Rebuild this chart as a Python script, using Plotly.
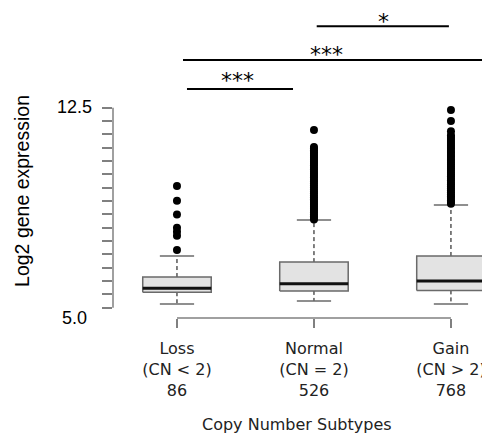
import plotly.graph_objects as go

# ---------------- data ----------------
categories = ["Loss", "Normal", "Gain"]
cn_labels = ["(CN < 2)", "(CN = 2)", "(CN > 2)"]
counts = [86, 526, 768]

q1 = [5.58, 5.63, 5.65]
medians = [5.73, 5.90, 6.00]
q3 = [6.15, 6.71, 6.94]
lower_whisker = [5.14, 5.25, 5.14]
upper_whisker = [6.94, 8.29, 8.85]

loss_outliers = [9.56, 9.01, 8.50, 8.00, 7.85, 7.70, 7.16]
normal_outliers = [11.66, 11.03, 10.97, 10.90, 10.84, 10.77, 10.70, 10.62, 10.55,
                   10.47, 10.40, 10.33, 10.25, 10.18, 10.10, 10.02, 9.95, 9.88,
                   9.80, 9.73, 9.66, 9.58, 9.51, 9.43, 9.36, 9.29, 9.21, 9.14,
                   9.07, 9.00, 8.93, 8.86, 8.79, 8.71, 8.64, 8.57, 8.50, 8.43,
                   8.36, 8.31]
gain_outliers = [12.41, 12.00, 11.62, 11.47, 11.40, 11.33, 11.25, 11.18, 11.10,
                 11.03, 10.96, 10.88, 10.81, 10.73, 10.66, 10.58, 10.51, 10.44,
                 10.36, 10.29, 10.21, 10.14, 10.06, 9.99, 9.92, 9.84, 9.77,
                 9.69, 9.62, 9.55, 9.47, 9.40, 9.33, 9.25, 9.18, 9.11, 9.03,
                 8.96, 8.90]
outliers = [loss_outliers, normal_outliers, gain_outliers]

ytick_vals = [5.0, 5.5, 6.0, 6.5, 7.0, 7.5, 8.0, 8.5, 9.0, 9.5, 10.0, 10.5,
              11.0, 11.5, 12.0, 12.5]
ytick_labels = ["5.0", "12.5"]

# significance comparisons
sig_x0 = [0.073, 0.044, 1.02]
sig_x1 = [0.847, 2.29, 1.985]
sig_y = [13.20, 14.29, 15.56]
sig_text_x = [0.445, 1.088, 1.504]
sig_text_y = [13.53, 14.51, 16.24]
sig_text_anchor = ["middle", "middle", "top"]
sig_labels = ["***", "***", "*"]

# ---------------- styles ----------------
HALF_BOX = 0.25
HALF_CAP = 0.125
AXIS_GRAY = "#808080"
BOX_EDGE = "#6a6a6a"
BOX_FILL = "#e3e3e3"

fig = go.Figure()

for i, cat in enumerate(categories):
    # whiskers (dashed)
    fig.add_trace(go.Scatter(x=[i, i], y=[q3[i], upper_whisker[i]], mode="lines",
                             line=dict(color="black", width=1, dash="4px,3px"),
                             hoverinfo="skip", showlegend=False))
    fig.add_trace(go.Scatter(x=[i, i], y=[q1[i], lower_whisker[i]], mode="lines",
                             line=dict(color="black", width=1, dash="4px,3px"),
                             hoverinfo="skip", showlegend=False))
    # caps
    for v in (upper_whisker[i], lower_whisker[i]):
        fig.add_trace(go.Scatter(x=[i - HALF_CAP, i + HALF_CAP], y=[v, v], mode="lines",
                                 line=dict(color=BOX_EDGE, width=1.5),
                                 hoverinfo="skip", showlegend=False))
    # box
    fig.add_trace(go.Scatter(x=[i - HALF_BOX, i + HALF_BOX, i + HALF_BOX, i - HALF_BOX, i - HALF_BOX],
                             y=[q1[i], q1[i], q3[i], q3[i], q1[i]], mode="lines",
                             fill="toself", fillcolor=BOX_FILL,
                             line=dict(color=BOX_EDGE, width=1.5),
                             name=cat, showlegend=False))
    # median
    fig.add_trace(go.Scatter(x=[i - HALF_BOX, i + HALF_BOX], y=[medians[i], medians[i]],
                             mode="lines", line=dict(color="#111111", width=3),
                             hoverinfo="skip", showlegend=False))
    # outliers
    fig.add_trace(go.Scatter(x=[i] * len(outliers[i]), y=outliers[i], mode="markers",
                             marker=dict(color="black", size=8),
                             name=cat + " outliers", showlegend=False))

# axis lines (R style, limited to data range)
fig.add_shape(type="line", xref="paper", yref="y", x0=0, x1=0,
              y0=ytick_vals[0], y1=ytick_vals[-1], line=dict(color=AXIS_GRAY, width=1.5))
fig.add_shape(type="line", xref="x", yref="paper", x0=0, x1=len(categories) - 1,
              y0=0, y1=0, line=dict(color=AXIS_GRAY, width=1.5))

# significance bars
for x0, x1, y, tx, ty, anc, lab in zip(sig_x0, sig_x1, sig_y, sig_text_x, sig_text_y,
                                       sig_text_anchor, sig_labels):
    fig.add_shape(type="line", xref="x", yref="y", x0=x0, x1=x1, y0=y, y1=y,
                  line=dict(color="black", width=2))
    fig.add_annotation(x=tx, y=ty, xref="x", yref="y", text=lab, showarrow=False,
                       font=dict(family="DejaVu Sans", size=22, color="black"),
                       xanchor="center", yanchor=anc, borderpad=0)

# y tick labels (only ends labelled)
fig.add_annotation(x=0, y=ytick_vals[-1], xref="paper", yref="y", text=ytick_labels[1],
                   showarrow=False, xanchor="right", yanchor="middle", xshift=-19, yshift=1,
                   font=dict(family="Liberation Sans, Arial", size=18, color="black"))
fig.add_annotation(x=0, y=ytick_vals[0], xref="paper", yref="y", text=ytick_labels[0],
                   showarrow=False, xanchor="right", yanchor="middle", xshift=-24, yshift=-10,
                   font=dict(family="Liberation Sans, Arial", size=18, color="black"))

# axis titles
fig.add_annotation(x=-0.2414, y=9.38, xref="paper", yref="y", text="Log2 gene expression",
                   showarrow=False, textangle=-90, xanchor="center", yanchor="middle",
                   font=dict(family="Liberation Sans, Arial", size=19.5, color="black"))
fig.add_annotation(x=0.489, y=-0.345, xref="paper", yref="paper", text="Copy Number Subtypes",
                   showarrow=False, xanchor="center", yanchor="middle",
                   font=dict(family="DejaVu Sans", size=16, color="#222222"))

ticktext = [f"{c}<br>{n.replace('<', '&lt;').replace('>', '&gt;')}<br>{k}"
            for c, n, k in zip(categories, cn_labels, counts)]

# the page body adds an 8px offset, so the figure is sized to fit the 490x444 window
fig.update_layout(
    width=482, height=436,
    margin=dict(l=105, r=0, t=0, b=126),
    paper_bgcolor="white", plot_bgcolor="white",
    showlegend=False,
    xaxis=dict(range=[-0.467, 2.285], tickmode="array", tickvals=[0, 1, 2], ticktext=ticktext,
               ticks="outside", ticklen=9, tickwidth=1.5, tickcolor=AXIS_GRAY,
               ticklabelstandoff=7,
               showline=False, showgrid=False, zeroline=False,
               tickfont=dict(family="DejaVu Sans", size=16, color="#222222")),
    yaxis=dict(range=[4.614, 16.24], tickmode="array", tickvals=ytick_vals,
               showticklabels=False, ticks="outside", ticklen=10, tickwidth=1.5,
               tickcolor=AXIS_GRAY, showline=False, showgrid=False, zeroline=False),
)

fig.write_html("out.html")
